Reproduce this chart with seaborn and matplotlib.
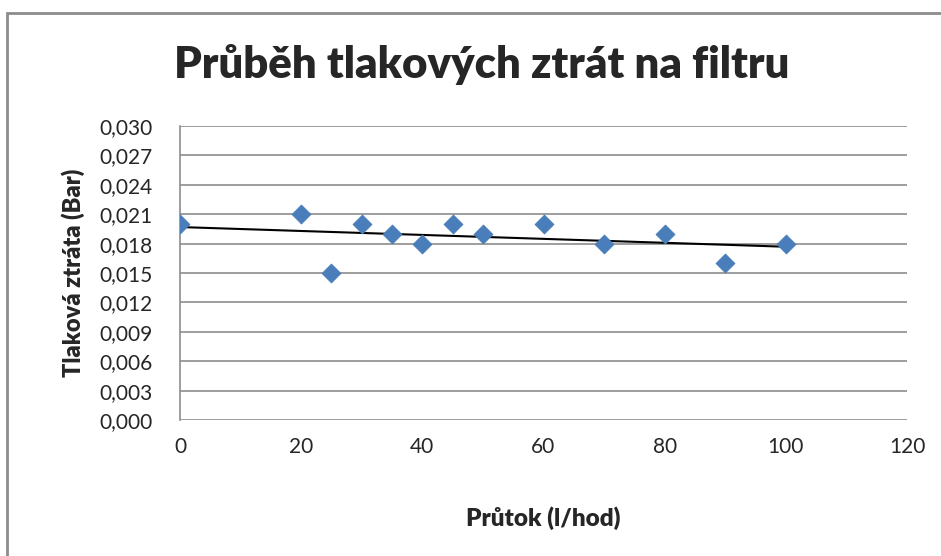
import numpy as np
import pandas as pd
import matplotlib
matplotlib.use("Agg")
import matplotlib.pyplot as plt
import seaborn as sns
from matplotlib.ticker import FuncFormatter, MultipleLocator

# Data
prutok = [0, 20, 25, 30, 35, 40, 45, 50, 60, 70, 80, 90, 100]
ztrata = [0.020, 0.021, 0.015, 0.020, 0.019, 0.018, 0.020, 0.019, 0.020, 0.018, 0.019, 0.016, 0.018]

title = "Průběh tlakových ztrát na filtru"
xlabel = "Průtok (l/hod)"
ylabel = "Tlaková ztráta (Bar)"

df = pd.DataFrame({"prutok": prutok, "ztrata": ztrata})

sns.set_theme(style="white")
plt.rcParams["font.family"] = ["Lato", "DejaVu Sans"]

fig = plt.figure(figsize=(9.41, 5.56), dpi=100)
ax = fig.add_axes([180 / 941, 1 - 420 / 556, (907 - 180) / 941, (420 - 126) / 556])

# outer chart border like Excel
fig.patches.append(plt.Rectangle((7 / 941, -0.05), 1.1, 1 - 13 / 556 + 0.05,
                                 transform=fig.transFigure, fill=False,
                                 edgecolor="#8c8c8c", linewidth=2))

sns.scatterplot(data=df, x="prutok", y="ztrata", ax=ax, marker="D", s=90,
                color="#4a7ebb", edgecolor="#4a7ebb", zorder=3)
sns.regplot(data=df, x="prutok", y="ztrata", ax=ax, scatter=False, ci=None,
            line_kws={"color": "black", "linewidth": 1.5, "zorder": 2})

ax.set_xlim(0, 120)
ax.set_ylim(0, 0.030)
ax.xaxis.set_major_locator(MultipleLocator(20))
ax.yaxis.set_major_locator(MultipleLocator(0.003))
ax.yaxis.set_major_formatter(FuncFormatter(lambda v, p: f"{v:.3f}".replace(".", ",")))

ax.grid(axis="y", color="#8c8c8c", linewidth=1.2)
ax.grid(axis="x", visible=False)
for s in ["top", "right", "bottom"]:
    ax.spines[s].set_visible(False)
ax.spines["left"].set_color("#8c8c8c")
ax.spines["left"].set_linewidth(1.2)

ax.tick_params(axis="y", labelsize=15, pad=20, length=0)
ax.tick_params(axis="x", labelsize=15, pad=12, length=0)

ax.set_xlabel(xlabel, fontsize=17.5, fontweight="heavy", labelpad=36)
ax.set_ylabel(ylabel, fontsize=17, fontweight="heavy", labelpad=10)
fig.text(482 / 941, 1 - 65 / 556, title, ha="center", va="center",
         fontsize=31.5, fontweight="heavy")

fig.savefig("out.png", dpi=100)
